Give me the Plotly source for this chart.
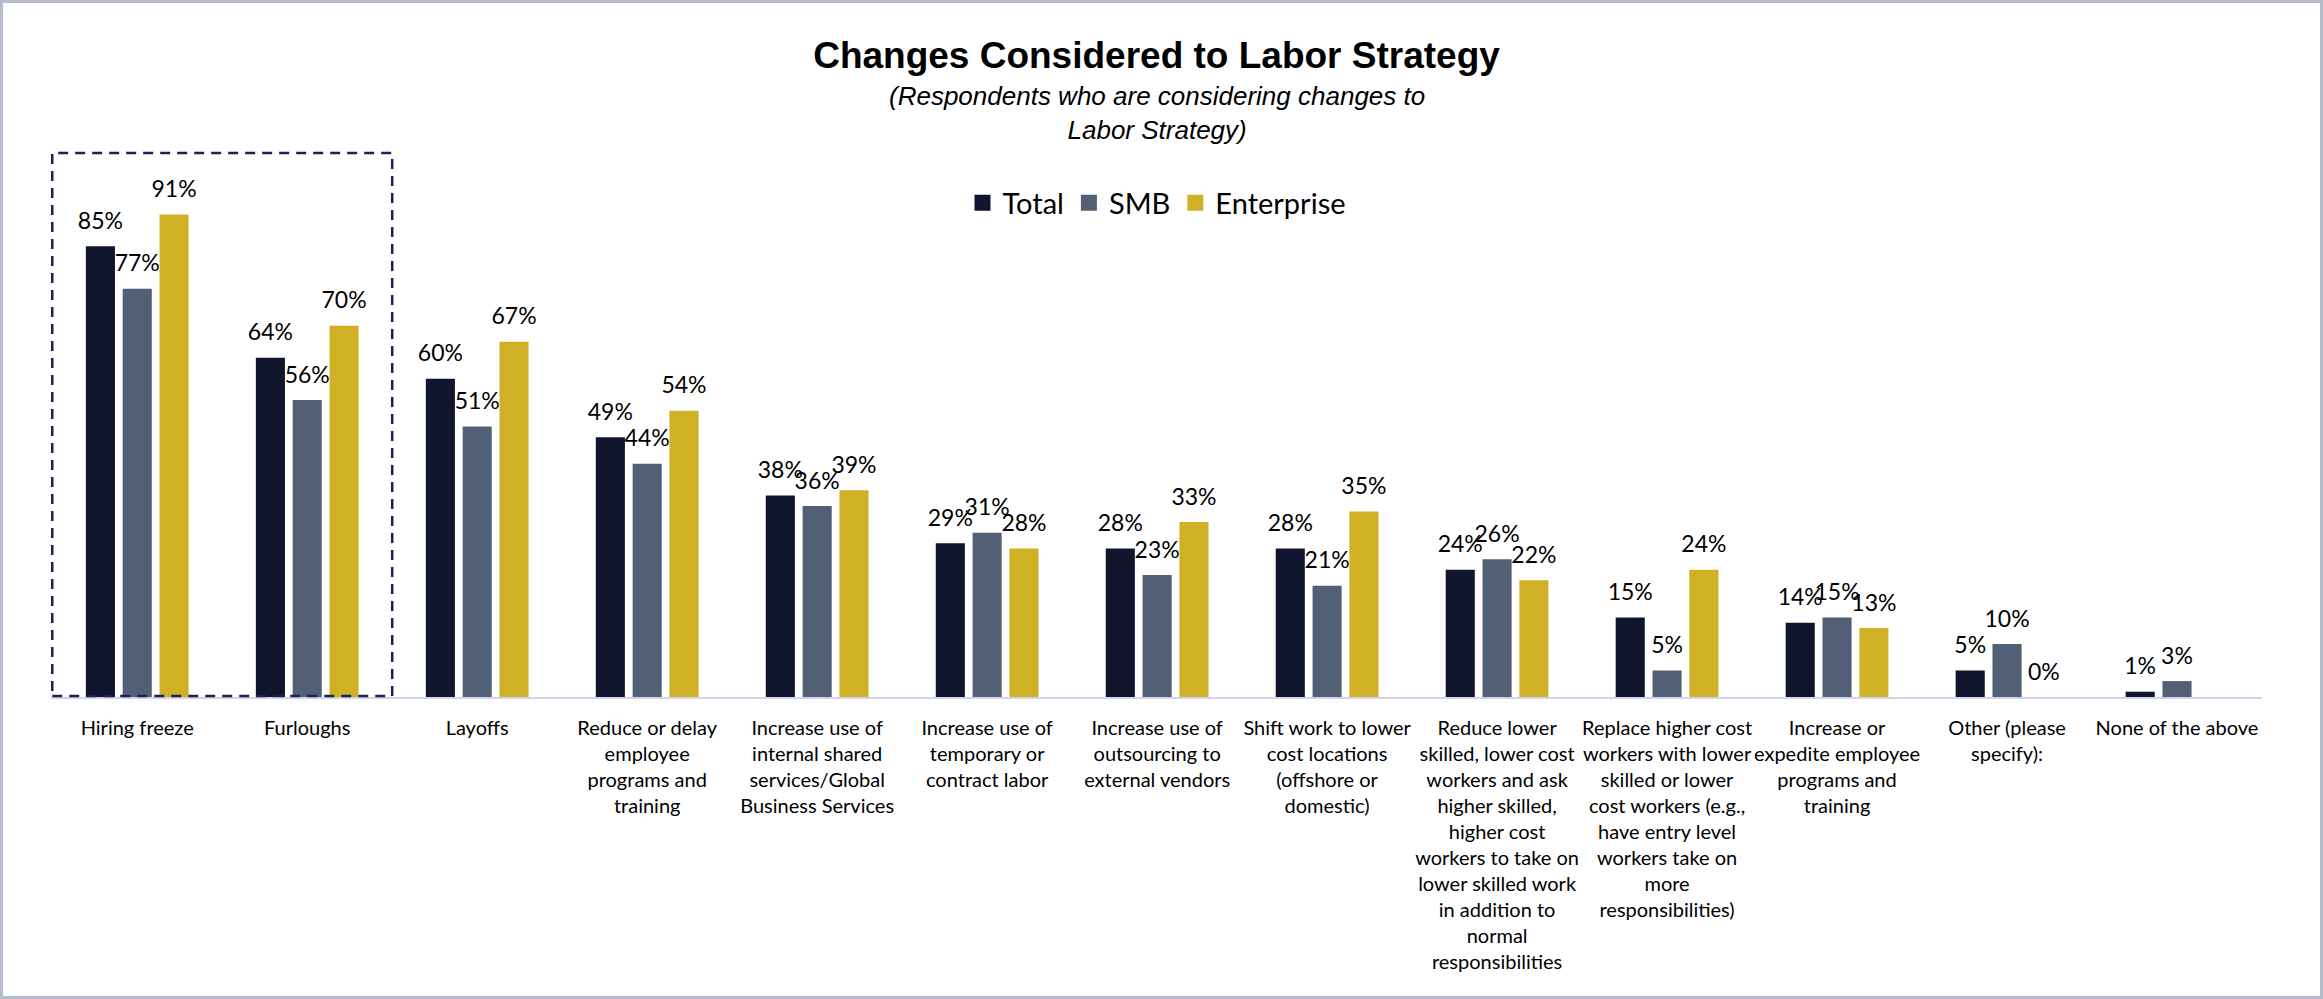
import plotly.graph_objects as go

# Category labels (line-wrapped as shown under the axis)
categories = [
    "Hiring freeze",
    "Furloughs",
    "Layoffs",
    "Reduce or delay<br>employee<br>programs and<br>training",
    "Increase use of<br>internal shared<br>services/Global<br>Business Services",
    "Increase use of<br>temporary or<br>contract labor",
    "Increase use of<br>outsourcing to<br>external vendors",
    "Shift work to lower<br>cost locations<br>(offshore or<br>domestic)",
    "Reduce lower<br>skilled, lower cost<br>workers and ask<br>higher skilled,<br>higher cost<br>workers to take on<br>lower skilled work<br>in addition to<br>normal<br>responsibilities",
    "Replace higher cost<br>workers with lower<br>skilled or lower<br>cost workers (e.g.,<br>have entry level<br>workers take on<br>more<br>responsibilities)",
    "Increase or<br>expedite employee<br>programs and<br>training",
    "Other (please<br>specify):",
    "None of the above",
]

# Share of respondents (%)
total = [85, 64, 60, 49, 38, 29, 28, 28, 24, 15, 14, 5, 1]
smb = [77, 56, 51, 44, 36, 31, 23, 21, 26, 5, 15, 10, 3]
enterprise = [91, 70, 67, 54, 39, 28, 33, 35, 22, 24, 13, 0, None]

series = [
    ("Total", total, "#10142d"),
    ("SMB", smb, "#526076"),
    ("Enterprise", enterprise, "#d0b024"),
]

W, H = 2323, 999
ML, MR, MT, MB = 51, 61, 153, 302
plot_w = W - ML - MR
plot_h = H - MT - MB
YMAX = 102.6
GAP = 0.35

label_font = "Lato, 'Open Sans', sans-serif"
title_font = "'Liberation Sans', Arial, sans-serif"

fig = go.Figure()

for name, vals, color in series:
    fig.add_trace(go.Bar(
        name=name,
        x=categories,
        y=vals,
        marker=dict(color=color, line=dict(width=0)),
        offsetgroup=name,
        showlegend=False,
        hoverinfo="skip",
    ))

# Value labels above each bar, grouped to line up with the bars
for name, vals, color in series:
    fig.add_trace(go.Scatter(
        x=categories,
        y=vals,
        mode="markers+text",
        marker=dict(size=17, opacity=0),
        text=[None if v is None else f"{v}%" for v in vals],
        textposition="top center",
        textfont=dict(family=label_font, size=23, color="#000000"),
        offsetgroup=name,
        showlegend=False,
        hoverinfo="skip",
        cliponaxis=False,
    ))

# Legend entries with square swatches
for name, vals, color in series:
    fig.add_trace(go.Scatter(
        name=name,
        x=[None],
        y=[None],
        mode="markers",
        marker=dict(symbol="square", size=16, color=color),
        offsetgroup=name,
        showlegend=True,
        hoverinfo="skip",
    ))


def px_x(p):
    return (p - ML) / plot_w


def px_y(p):
    return (H - MB - p) / plot_h


shapes = [
    # outer frame
    dict(type="rect", xref="paper", yref="paper",
         x0=px_x(1.5), x1=px_x(W - 1.5), y0=px_y(H - 1.5), y1=px_y(1.5),
         line=dict(color="#b5bccb", width=3), fillcolor="rgba(0,0,0,0)",
         layer="below"),
    # dashed highlight box around the first two categories
    dict(type="rect", xref="x", yref="paper",
         x0=-0.5, x1=1.5, y0=px_y(696), y1=1,
         line=dict(color="#1b2250", width=2.5, dash="10px,7px"),
         fillcolor="rgba(0,0,0,0)", layer="above"),
]

annotations = [
    dict(text="<i>(Respondents who are considering changes to<br>Labor Strategy)</i>",
         xref="paper", yref="paper", x=0.5, y=px_y(112.5),
         xanchor="center", yanchor="middle", showarrow=False,
         font=dict(family=title_font, size=26, color="#000000")),
]

fig.update_layout(
    width=W, height=H,
    margin=dict(l=ML, r=MR, t=MT, b=MB, autoexpand=False),
    paper_bgcolor="white",
    plot_bgcolor="white",
    title=dict(text="<b>Changes Considered to Labor Strategy</b>",
               x=0.5, xref="paper", xanchor="center",
               y=1 - 55 / H, yref="container", yanchor="middle",
               font=dict(family=title_font, size=37, color="#000000")),
    barmode="group",
    bargap=GAP,
    bargroupgap=0.21,
    scattermode="group",
    scattergap=GAP,
    legend=dict(orientation="h", x=0.5, xanchor="center",
                y=px_y(203), yanchor="middle", itemsizing="trace",
                font=dict(family=label_font, size=29, color="#000000"),
                bgcolor="rgba(0,0,0,0)", itemclick=False),
    xaxis=dict(showline=True, linecolor="#d0d4ef", linewidth=2,
               ticks="", showgrid=False, zeroline=False,
               tickfont=dict(family=label_font, size=20, color="#000000"),
               ticklabelstandoff=12, tickangle=0, fixedrange=True),
    yaxis=dict(range=[0, YMAX], visible=False, fixedrange=True),
    shapes=shapes,
    annotations=annotations,
    showlegend=True,
)

fig.write_html("out.html")
